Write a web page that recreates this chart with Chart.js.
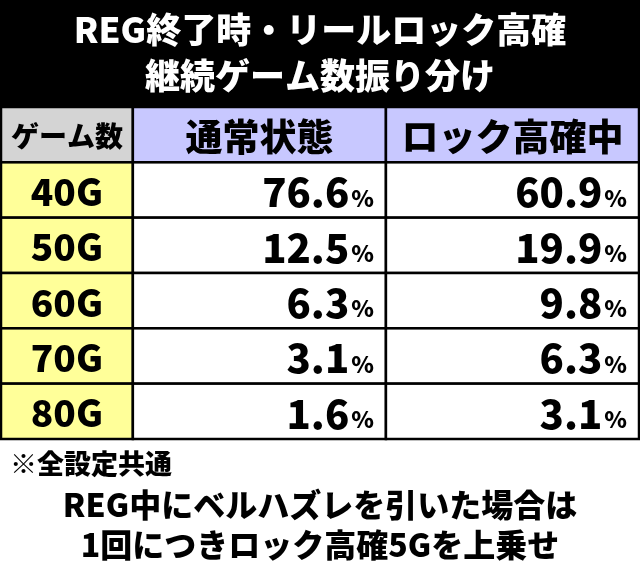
<!DOCTYPE html><html><head><meta charset="utf-8">
<script src="https://cdn.jsdelivr.net/npm/chart.js@4"></script>
<style>html,body{margin:0;padding:0;background:#fff}#w{width:640px;height:568px}</style></head><body><div id="w"><canvas id="c"></canvas></div>
<script>
const titleLines=["REG終了時・リールロック高確","継続ゲーム数振り分け"];
const headers=["ゲーム数","通常状態","ロック高確中"];
const categories=["40G","50G","60G","70G","80G"];
const normalVals=[76.6,12.5,6.3,3.1,1.6];
const lockVals=[60.9,19.9,9.8,6.3,3.1];
const notes=["※全設定共通","REG中にベルハズレを引いた場合は","1回につきロック高確5Gを上乗せ"];
const colEdges=[0,0.62,1.81,3];
const F='"Noto Sans CJK JP", sans-serif';
const tablePlugin={id:'tbl',afterDraw(ch){
 const c=ch.ctx,x=ch.scales.x,y=ch.scales.y;
 const X=v=>x.getPixelForValue(v),Y=v=>y.getPixelForValue(v);
 c.save();
 c.fillStyle='#000';c.fillRect(0,0,640,Y(0));
 c.fillStyle='#fff';c.textAlign='center';c.textBaseline='middle';c.font='900 35px '+F;
 c.fillText(titleLines[0],320,30);c.fillText(titleLines[1],320,76);
 const rows=[headers].concat(categories.map((k,i)=>[k,normalVals[i],lockVals[i]]));
 rows.forEach((r,ri)=>{
  const y0=Y(ri),y1=Y(ri+1);
  for(let ci=0;ci<3;ci++){
   const x0=X(colEdges[ci]),x1=X(colEdges[ci+1]);
   c.fillStyle=ri===0?(ci===0?'#d4d4d4':'#c8c8ff'):(ci===0?'#ffff99':'#fff');
   c.fillRect(x0,y0,x1-x0,y1-y0);
   c.strokeStyle='#000';c.lineWidth=2.5;c.strokeRect(x0,y0,x1-x0,y1-y0);
   c.fillStyle='#000';c.textBaseline='middle';
   const cy=(y0+y1)/2+2;
   if(ri===0||ci===0){c.textAlign='center';c.font=(ri===0&&ci===0?'900 28px ':'900 37px ')+F;c.fillText(r[ci],(x0+x1)/2,cy);}
   else{c.textAlign='right';c.font='900 23px '+F;c.fillText('%',x1-12,cy+6);
    const pw=c.measureText('%').width;c.font='900 40px '+F;c.fillText(r[ci].toFixed(1),x1-14-pw,cy);}
  }
 });
 c.fillStyle='#000';c.textAlign='left';c.font='900 27px '+F;c.fillText(notes[0],10,464);
 c.textAlign='center';c.font='900 32px '+F;c.fillText(notes[1],320,505);c.fillText(notes[2],320,545);
 c.restore();}};
new Chart(document.getElementById('c'),{type:'scatter',
 data:{datasets:[{data:categories.map((k,i)=>({x:1.2,y:i+1.5})),pointRadius:0},{data:categories.map((k,i)=>({x:2.4,y:i+1.5})),pointRadius:0}]},
 options:{responsive:true,maintainAspectRatio:false,animation:false,
  layout:{padding:{top:107,bottom:129,left:1,right:1}},
  plugins:{legend:{display:false},tooltip:{enabled:false}},
  scales:{x:{type:'linear',min:0,max:3,display:false},y:{type:'linear',min:0,max:6,reverse:true,display:false}}},
 plugins:[tablePlugin]});
</script></body></html>
